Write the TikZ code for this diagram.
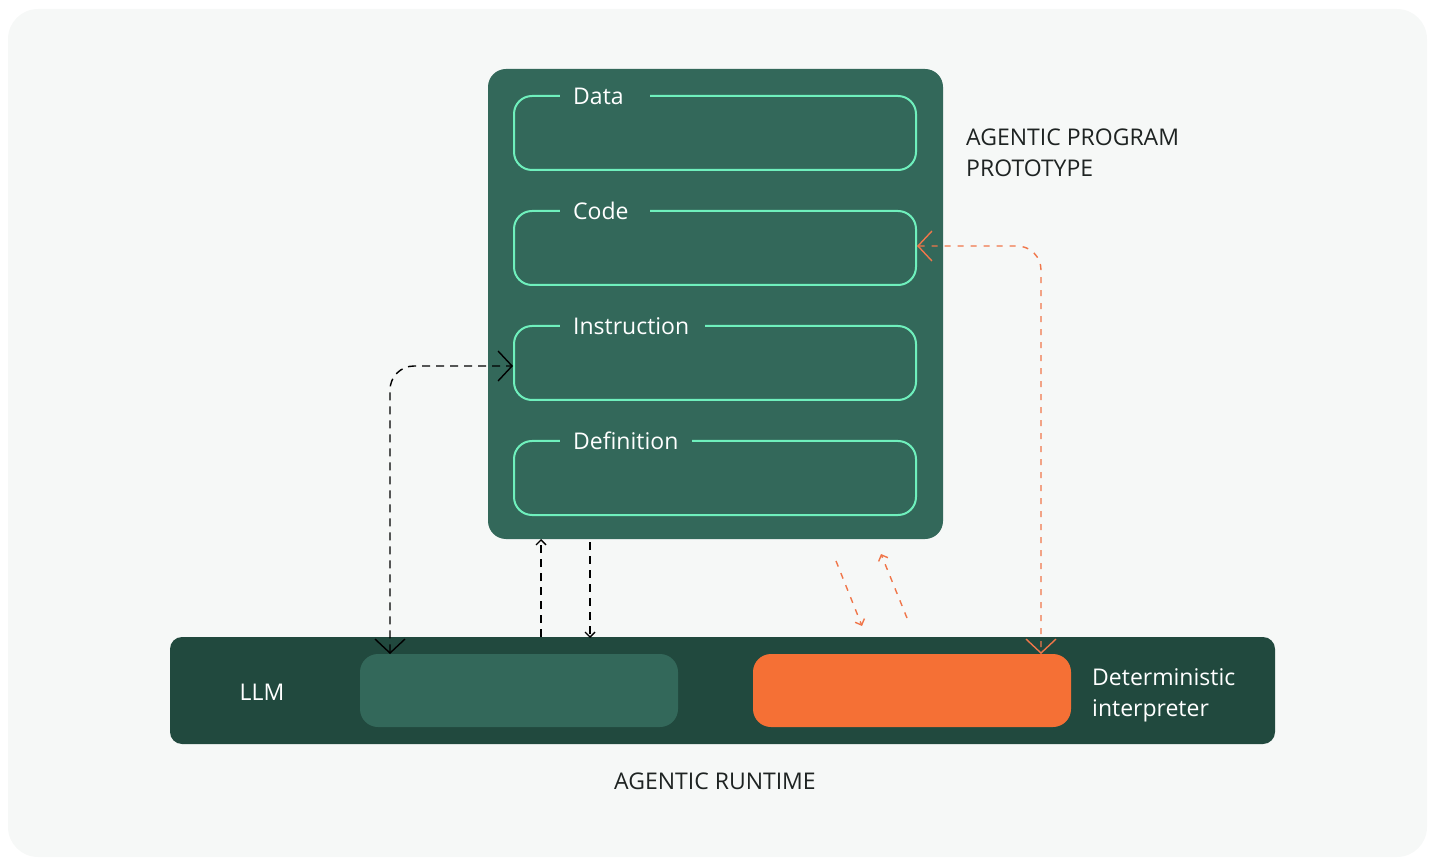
\documentclass[tikz,border=0pt]{standalone}
\usepackage{fontspec}
\setmainfont{Open Sans}
\usetikzlibrary{arrows.meta}
\definecolor{pagebg}{HTML}{F6F8F7}
\definecolor{progbg}{HTML}{33685A}
\definecolor{mint}{HTML}{6FF0BD}
\definecolor{runbg}{HTML}{21493E}
\definecolor{orangebox}{HTML}{F57035}
\definecolor{orangeline}{HTML}{F0764A}
\definecolor{ink}{HTML}{1E2322}
\tikzset{
  txt/.style={font=\fontsize{23}{31}\selectfont, inner sep=0pt},
  slot/.style={draw=mint, line width=2pt, rounded corners=18pt},
  slotlabel/.style={txt, text=white, anchor=west},
  gapfill/.style={fill=progbg},
  bigflow/.style={line width=1.4pt, dash pattern=on 8pt off 6pt, rounded corners=24pt,
    {Straight Barb[length=14pt,width=30pt,line width=1.4pt]}-{Straight Barb[length=14pt,width=30pt,line width=1.4pt]}},
  smallflow/.style={line width=1.4pt, dash pattern=on 8pt off 6pt,
    -{Straight Barb[length=5pt,width=10pt,line width=1.4pt]}},
  orflow/.style={orangeline, dash pattern=on 6pt off 7pt, line width=1.4pt},
}
\begin{document}
\begin{tikzpicture}[x=1pt,y=-1pt]
  \useasboundingbox (0,0) rectangle (1430,858);
  % canvas
  \fill[pagebg, rounded corners=30pt] (8,9) rectangle (1427,857);

  % agentic program prototype block
  \fill[progbg, rounded corners=18pt] (488,69) rectangle (943,539);
  \coordinate (prog-bl) at (541,539);
  \coordinate (prog-bm) at (590,542);

  % slots, each with a gap in its top edge for the label
  \draw[slot] (514,96) rectangle (916,170);
  \fill[gapfill] (560,90) rectangle (650,102);
  \node[slotlabel] (data) at (573,96) {Data};
  \draw[slot] (514,211) rectangle (916,285);
  \fill[gapfill] (560,205) rectangle (650,217);
  \coordinate (code-e) at (917,246);
  \node[slotlabel] (code) at (573,211) {Code};
  \draw[slot] (514,326) rectangle (916,400);
  \fill[gapfill] (560,320) rectangle (705,332);
  \coordinate (instr-w) at (513,366);
  \node[slotlabel] (instr) at (573,326) {Instruction};
  \draw[slot] (514,441) rectangle (916,515);
  \fill[gapfill] (560,435) rectangle (692,447);
  \node[slotlabel] (defn) at (573,441) {Definition};

  \node[txt, text=ink, anchor=west, align=left] (protolabel) at (966,152.5)
    {AGENTIC PROGRAM\\PROTOTYPE};

  % agentic runtime bar
  \fill[runbg, rounded corners=12pt] (170,637) rectangle (1275,744);
  \coordinate (run-top1) at (541,637);
  \coordinate (run-top2) at (590,638);
  \fill[progbg, rounded corners=18pt] (360,654) rectangle (678,727);
  \coordinate (llm-n) at (390,654);
  \fill[orangebox, rounded corners=18pt] (753,654) rectangle (1071,727);
  \coordinate (det-n) at (1041,654);

  \node[txt, text=white] (llm) at (262,692) {LLM};
  \node[txt, text=white, anchor=west, align=left] (det) at (1092,695)
    {Deterministic\\interpreter};
  \node[txt, text=ink] (runlabel) at (715,781) {AGENTIC RUNTIME};

  % LLM <-> Instruction
  \draw[bigflow, black] (llm-n) -- (390,366) -- (instr-w);
  % runtime <-> program, short links
  \draw[smallflow, black] (run-top1) -- (prog-bl);
  \draw[smallflow, black] (prog-bm) -- (run-top2);

  % Code <-> deterministic interpreter
  \draw[bigflow, orflow] (code-e) -- (1041,246) -- (det-n);
  % small diagonal exchange
  \coordinate (d1a) at (836,561);
  \coordinate (d1b) at (862,626);
  \coordinate (d2a) at (907,618);
  \coordinate (d2b) at (881,554);
  \draw[smallflow, orflow] (d1a) -- (d1b);
  \draw[smallflow, orflow] (d2a) -- (d2b);
\end{tikzpicture}
\end{document}
